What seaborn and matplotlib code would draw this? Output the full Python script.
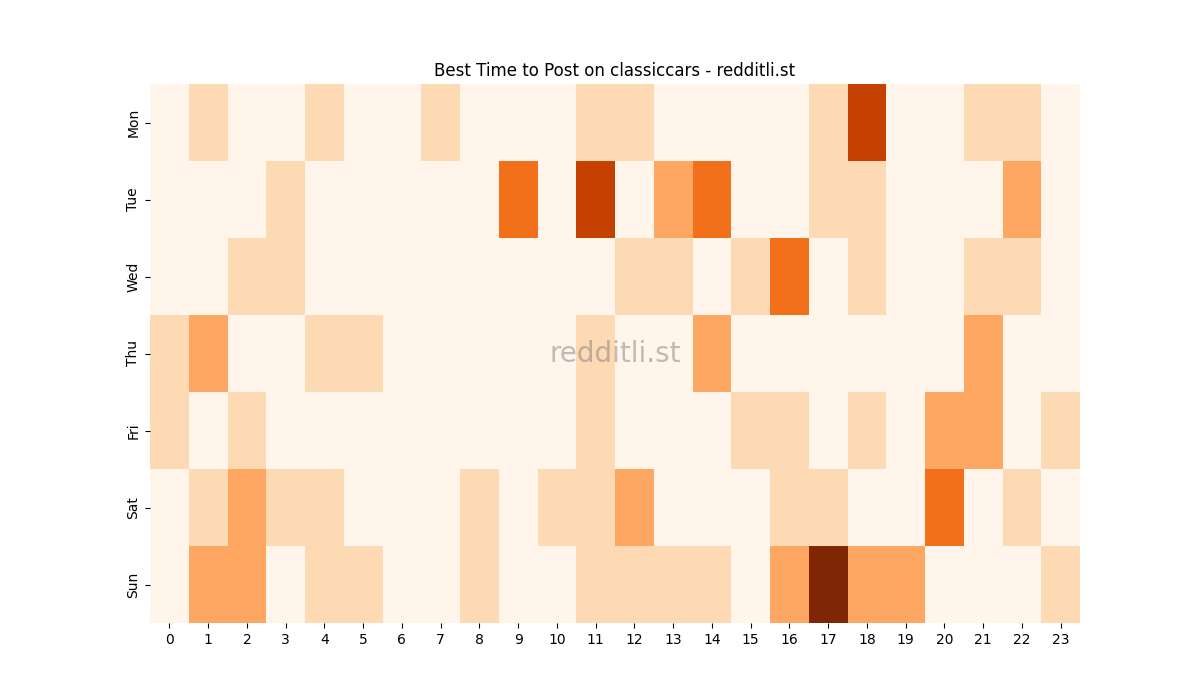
import numpy as np
import pandas as pd
import matplotlib
matplotlib.use("Agg")
import matplotlib.pyplot as plt
import seaborn as sns

days = ["Mon", "Tue", "Wed", "Thu", "Fri", "Sat", "Sun"]
hours = list(range(24))

mon = [0, 1, 0, 0, 1, 0, 0, 1, 0, 0, 0, 1, 1, 0, 0, 0, 0, 1, 4, 0, 0, 1, 1, 0]
tue = [0, 0, 0, 1, 0, 0, 0, 0, 0, 3, 0, 4, 0, 2, 3, 0, 0, 1, 1, 0, 0, 0, 2, 0]
wed = [0, 0, 1, 1, 0, 0, 0, 0, 0, 0, 0, 0, 1, 1, 0, 1, 3, 0, 1, 0, 0, 1, 1, 0]
thu = [1, 2, 0, 0, 1, 1, 0, 0, 0, 0, 0, 1, 0, 0, 2, 0, 0, 0, 0, 0, 0, 2, 0, 0]
fri = [1, 0, 1, 0, 0, 0, 0, 0, 0, 0, 0, 1, 0, 0, 0, 1, 1, 0, 1, 0, 2, 2, 0, 1]
sat = [0, 1, 2, 1, 1, 0, 0, 0, 1, 0, 1, 1, 2, 0, 0, 0, 1, 1, 0, 0, 3, 0, 1, 0]
sun = [0, 2, 2, 0, 1, 1, 0, 0, 1, 0, 0, 1, 1, 1, 1, 0, 2, 5, 2, 2, 0, 0, 0, 1]

df = pd.DataFrame([mon, tue, wed, thu, fri, sat, sun], index=days, columns=hours)

fig = plt.figure(figsize=(12, 7), dpi=100)
ax = sns.heatmap(df, cmap="Oranges", vmin=0, vmax=5, cbar=False)
ax.set_yticklabels(days, rotation=90, va="center")
ax.set_xticklabels(hours, rotation=0)
ax.set_xlabel("")
ax.set_ylabel("")
ax.set_title("Best Time to Post on classiccars - redditli.st")
ax.text(0.5, 0.5, "redditli.st", transform=ax.transAxes, fontsize=20,
        color="grey", alpha=0.5, ha="center", va="center")

plt.savefig("out.png")
